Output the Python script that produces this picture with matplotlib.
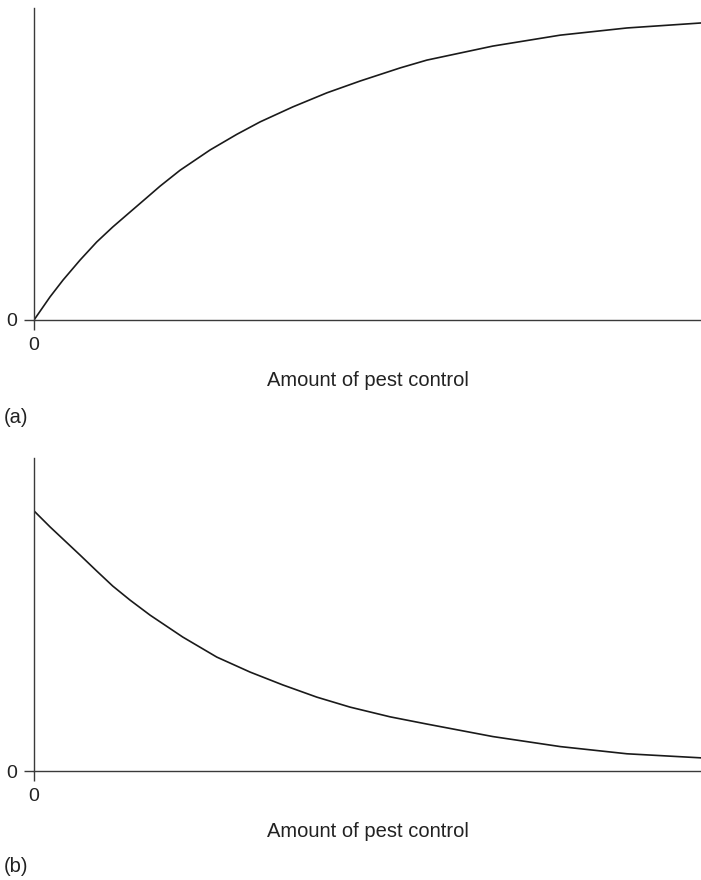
import matplotlib.pyplot as plt
import numpy as np

plt.rcParams['font.family'] = ['Liberation Sans', 'DejaVu Sans']

# values (x and y in arbitrary units, axes run 0..10)
x_a = [0, 0.24, 0.435, 0.69, 0.94, 1.18, 1.44, 1.69, 1.89, 2.19, 2.64, 3.04, 3.39,
       3.88, 4.39, 4.89, 5.49, 5.89, 6.88, 7.89, 8.89, 10.0]
y_a = [0, 0.74, 1.28, 1.92, 2.50, 2.98, 3.46, 3.92, 4.29, 4.80, 5.45, 5.95, 6.35,
       6.83, 7.28, 7.66, 8.08, 8.33, 8.78, 9.13, 9.36, 9.52]

x_b = [0, 0.24, 0.435, 0.69, 0.94, 1.18, 1.44, 1.74, 2.23, 2.74, 3.24, 3.73, 4.24,
       4.74, 5.34, 5.89, 6.88, 7.89, 8.89, 10.0]
y_b = [8.31, 7.80, 7.41, 6.90, 6.39, 5.91, 5.46, 4.98, 4.28, 3.64, 3.16, 2.75, 2.36,
       2.04, 1.73, 1.50, 1.10, 0.78, 0.55, 0.42]

xlabel = "Amount of pest control"
panel_tags = ["(a)", "(b)"]

W, H = 701, 880
fig = plt.figure(figsize=(W / 100, H / 100), dpi=100)

# axes boxes in pixels: left, top of y-axis, x-axis row
boxes = [(34, 8, 320), (34, 458, 771)]
tag_y = [417, 866]

for (left, top, bottom), xs, ys, tag, ty in zip(boxes, [x_a, x_b], [y_a, y_b], panel_tags, tag_y):
    ax = fig.add_axes([left / W, 1 - bottom / H, (W - left) / W, (bottom - top) / H])
    ax.plot(xs, ys, color="#1a1a1a", lw=1.2, solid_joinstyle='round')
    ax.set_xlim(0, 10)
    ax.set_ylim(0, 10)
    for s in ['top', 'right']:
        ax.spines[s].set_visible(False)
    for s in ['left', 'bottom']:
        ax.spines[s].set_color("#3a3a3a")
        ax.spines[s].set_linewidth(1.0)
    ax.set_xticks([0])
    ax.set_yticks([0])
    ax.set_xticklabels(["0"])
    ax.set_yticklabels(["0"])
    ax.tick_params(direction='out', length=7.2, width=1.0, color="#3a3a3a",
                   labelsize=14, labelcolor="#222222", pad=5)
    ax.set_xlabel(xlabel, fontsize=14.5, color="#222222", labelpad=12)
    fig.text(4 / W, 1 - ty / H, tag, fontsize=14.5, color="#222222", ha='left', va='center')

fig.savefig("out.png", dpi=100)
